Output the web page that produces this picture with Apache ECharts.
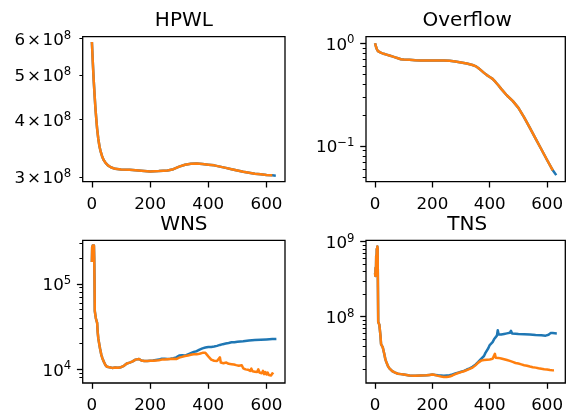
<!DOCTYPE html>
<html><head><meta charset="utf-8">
<script src="https://cdn.jsdelivr.net/npm/echarts@6/dist/echarts.min.js"></script>
<style>html,body{margin:0;padding:0;background:#fff}#c{width:566px;height:414px}</style>
</head><body><div id="c"></div>
<script>
// ---------------- data ----------------
const titles = ['HPWL', 'Overflow', 'WNS', 'TNS'];
const xTicks = [0, 200, 400, 600];

// HPWL
const hpwlBlueX = [0,3,6,9,12,15,18,22,26,30,35,40,47,55,65,80,100,130,160,200,230,260,280,300,320,340,360,380,400,420,440,460,480,500,520,540,560,580,600,620,632];
const hpwlBlueY = [5.90e8,5.35e8,4.90e8,4.55e8,4.25e8,4.02e8,3.82e8,3.63e8,3.50e8,3.41e8,3.33e8,3.27e8,3.22e8,3.18e8,3.15e8,3.125e8,3.115e8,3.11e8,3.10e8,3.085e8,3.09e8,3.10e8,3.12e8,3.16e8,3.19e8,3.205e8,3.21e8,3.20e8,3.19e8,3.18e8,3.16e8,3.14e8,3.12e8,3.10e8,3.08e8,3.065e8,3.05e8,3.04e8,3.03e8,3.025e8,3.02e8];
const hpwlOrangeX = [0,3,6,9,12,15,18,22,26,30,35,40,47,55,65,80,100,130,160,200,230,260,280,300,320,340,360,380,400,420,440,460,480,500,520,540,560,580,600,620];
const hpwlOrangeY = [5.90e8,5.35e8,4.90e8,4.55e8,4.25e8,4.02e8,3.82e8,3.63e8,3.50e8,3.41e8,3.33e8,3.27e8,3.22e8,3.18e8,3.15e8,3.125e8,3.115e8,3.11e8,3.10e8,3.085e8,3.09e8,3.10e8,3.12e8,3.16e8,3.19e8,3.205e8,3.21e8,3.20e8,3.19e8,3.18e8,3.16e8,3.14e8,3.12e8,3.10e8,3.08e8,3.065e8,3.05e8,3.04e8,3.03e8,3.025e8];
const hpwlTicks = [3e8, 4e8, 5e8, 6e8];

// Overflow
const ovfBlueX = [0,3,6,10,15,20,30,40,50,60,70,80,90,100,120,140,160,180,200,220,240,260,280,300,320,340,350,360,370,380,390,400,410,420,430,440,460,480,500,520,540,560,580,600,620,632];
const ovfBlueY = [1.0,0.93,0.88,0.84,0.82,0.81,0.79,0.775,0.76,0.745,0.73,0.715,0.70,0.695,0.69,0.683,0.68,0.678,0.678,0.679,0.68,0.675,0.665,0.65,0.635,0.615,0.60,0.575,0.545,0.515,0.49,0.47,0.45,0.42,0.39,0.36,0.31,0.275,0.235,0.19,0.15,0.118,0.093,0.073,0.058,0.052];
const ovfOrangeX = [0,3,6,10,15,20,30,40,50,60,70,80,90,100,120,140,160,180,200,220,240,260,280,300,320,340,350,360,370,380,390,400,410,420,430,440,460,480,500,520,540,560,580,600,620];
const ovfOrangeY = [1.0,0.93,0.88,0.84,0.82,0.81,0.79,0.775,0.76,0.745,0.73,0.715,0.70,0.695,0.69,0.683,0.68,0.678,0.678,0.679,0.68,0.675,0.665,0.65,0.635,0.615,0.60,0.575,0.545,0.515,0.49,0.47,0.45,0.42,0.39,0.36,0.31,0.275,0.235,0.19,0.15,0.118,0.093,0.073,0.058];
const ovfMajor = [0.1, 1];
const ovfMinor = [0.05,0.06,0.07,0.08,0.09,0.2,0.3,0.4,0.5,0.6,0.7,0.8,0.9];

// WNS (shared start, then the two runs diverge)
const wnsHeadX = [0,1,2,3,4,5,6,7,8,9,10,12,14,16,18,20,22,25,28,32,36,41,46,52,60,70,80,90,100,110,120,130,140,150,156,162,170,180,190,200];
const wnsHeadY = [1.8e5,2.7e5,1.9e5,2.8e5,2.1e5,2.75e5,2.3e5,2.8e5,2.0e5,1.1e5,4.8e4,4.3e4,3.9e4,3.7e4,3.5e4,2.7e4,2.3e4,2.0e4,1.75e4,1.5e4,1.35e4,1.23e4,1.13e4,1.07e4,1.06e4,1.04e4,1.05e4,1.045e4,1.06e4,1.1e4,1.17e4,1.2e4,1.24e4,1.3e4,1.37e4,1.32e4,1.27e4,1.25e4,1.25e4,1.26e4];
const wnsBlueTailX = [210,220,230,240,250,260,270,280,290,300,310,320,330,340,350,360,370,380,390,400,410,420,430,440,450,460,470,480,490,500,520,540,560,580,600,620,634];
const wnsBlueTailY = [1.27e4,1.29e4,1.3e4,1.33e4,1.33e4,1.32e4,1.33e4,1.35e4,1.38e4,1.45e4,1.46e4,1.45e4,1.5e4,1.55e4,1.6e4,1.63e4,1.7e4,1.76e4,1.8e4,1.82e4,1.83e4,1.85e4,1.88e4,1.93e4,1.97e4,2.0e4,2.03e4,2.07e4,2.08e4,2.1e4,2.13e4,2.17e4,2.2e4,2.22e4,2.24e4,2.26e4,2.27e4];
const wnsOrangeTailX = [210,220,230,240,250,260,270,280,290,300,310,320,330,340,350,360,370,380,385,390,395,400,405,410,415,420,425,430,435,440,443,448,452,458,462,466,470,475,480,484,488,492,496,500,505,510,515,520,524,528,532,536,540,544,548,552,556,560,564,568,572,576,580,584,588,592,596,600,604,608,612,616,620,623];
const wnsOrangeTailY = [1.26e4,1.27e4,1.28e4,1.3e4,1.3e4,1.31e4,1.32e4,1.33e4,1.32e4,1.37e4,1.4e4,1.43e4,1.45e4,1.48e4,1.5e4,1.5e4,1.52e4,1.56e4,1.58e4,1.56e4,1.5e4,1.42e4,1.35e4,1.3e4,1.28e4,1.26e4,1.24e4,1.25e4,1.22e4,1.38e4,1.2e4,1.22e4,1.18e4,1.17e4,1.2e4,1.15e4,1.16e4,1.13e4,1.15e4,1.1e4,1.14e4,1.09e4,1.12e4,1.08e4,1.1e4,1.06e4,1.12e4,1.03e4,1.07e4,1.0e4,1.05e4,0.99e4,1.03e4,0.96e4,1.02e4,0.95e4,1.0e4,0.94e4,0.97e4,0.93e4,1.0e4,0.92e4,0.95e4,0.9e4,0.96e4,0.88e4,0.93e4,0.87e4,0.92e4,0.86e4,0.9e4,0.85e4,0.9e4,0.87e4];
const wnsMajor = [1e4, 1e5];
const wnsMinor = [8e3,9e3,2e4,3e4,4e4,5e4,6e4,7e4,8e4,9e4,2e5,3e5];

// TNS
const tnsHeadX = [0,1,2,3,4,5,6,7,8,9,10,11,13,15,17,19,21,24,27,30,33,36,40,45,50,55,60,70,80,90,100,120,140,160,180,190,200];
const tnsHeadY = [3.8e8,3.5e8,4.5e8,3.6e8,6.5e8,5.0e8,8.0e8,7.0e8,8.6e8,8.0e8,2.5e8,8.5e7,8.2e7,7.8e7,7.5e7,5.5e7,4.3e7,4.1e7,3.9e7,3.7e7,3.1e7,2.7e7,2.45e7,2.2e7,2.05e7,1.95e7,1.88e7,1.8e7,1.74e7,1.72e7,1.7e7,1.65e7,1.64e7,1.65e7,1.66e7,1.68e7,1.7e7];
const tnsBlueTailX = [210,220,230,240,250,260,270,280,290,300,310,320,330,340,350,360,370,380,385,390,395,400,405,410,415,420,425,428,431,434,440,450,460,470,474,478,490,500,520,540,560,580,595,600,605,612,620,634];
const tnsBlueTailY = [1.68e7,1.66e7,1.65e7,1.64e7,1.65e7,1.66e7,1.7e7,1.75e7,1.8e7,1.85e7,1.9e7,1.98e7,2.05e7,2.15e7,2.3e7,2.5e7,2.75e7,3.0e7,3.3e7,3.4e7,3.8e7,4.2e7,4.4e7,4.6e7,5.0e7,5.3e7,5.6e7,6.6e7,5.8e7,5.7e7,5.8e7,5.9e7,6.0e7,6.1e7,6.5e7,6.0e7,5.95e7,5.9e7,5.85e7,5.8e7,5.7e7,5.65e7,5.6e7,5.8e7,5.75e7,6.05e7,6.05e7,6.0e7];
const tnsOrangeTailX = [210,220,230,240,250,260,270,280,290,300,310,320,330,340,350,360,370,380,390,400,410,415,418,421,430,440,450,460,470,480,490,500,510,520,530,540,550,560,570,580,590,600,610,620,624];
const tnsOrangeTailY = [1.67e7,1.63e7,1.6e7,1.58e7,1.58e7,1.6e7,1.65e7,1.72e7,1.78e7,1.83e7,1.88e7,1.95e7,2.02e7,2.1e7,2.25e7,2.45e7,2.6e7,2.65e7,2.68e7,2.7e7,2.75e7,2.8e7,3.2e7,2.85e7,2.83e7,2.78e7,2.72e7,2.65e7,2.58e7,2.5e7,2.42e7,2.38e7,2.32e7,2.26e7,2.22e7,2.17e7,2.13e7,2.1e7,2.06e7,2.03e7,2.0e7,1.98e7,1.95e7,1.93e7,1.94e7];
const tnsMajor = [1e8, 1e9];
const tnsMinor = [2e7,3e7,4e7,5e7,6e7,7e7,8e7,9e7,2e8,3e8,4e8,5e8,6e8,7e8,8e8,9e8];

// ---------------- chart ----------------
const BLUE = '#1f77b4', ORANGE = '#ff7f0e';
const FONT = 'DejaVu Sans';
const pairs = (xs, ys) => xs.map((x, i) => [x, ys[i]]);

const grids = [
  {left: 82.7, top: 36.7, width: 202.3, height: 145},
  {left: 366, top: 36.7, width: 202.3, height: 145},
  {left: 82.7, top: 240.3, width: 202.3, height: 144.5},
  {left: 366, top: 240.3, width: 202.3, height: 144.5}
];
const yRanges = [[2.93e8, 6.06e8], [0.0449, 1.159], [6930, 3.22e5], [1.31e7, 1.043e9]];

function powFmt(v) {
  const e = Math.round(Math.log10(v));
  return '10{s|' + (e < 0 ? '\u2212' + (-e) : e) + '}';
}
function mantFmt(v) {
  const e = Math.floor(Math.log10(v) + 1e-9);
  const m = Math.round(v / Math.pow(10, e));
  return m + '\u200a\u00d7\u200a10{s|' + e + '}';
}

const majorSets = [hpwlTicks, ovfMajor, wnsMajor, tnsMajor];
const minorSets = [[], ovfMinor, wnsMinor, tnsMinor];
const fmts = [mantFmt, powFmt, powFmt, powFmt];

const xAxes = [], yAxes = [];
for (let i = 0; i < 4; i++) {
  xAxes.push({
    type: 'value', gridIndex: i, min: -31.6, max: 663.6, position: 'bottom',
    axisLine: {show: false, onZero: false}, splitLine: {show: false},
    axisTick: {show: true, customValues: xTicks, length: 5.8, lineStyle: {color: '#000', width: 1.3}},
    axisLabel: {customValues: xTicks, margin: 14, color: '#000', fontFamily: FONT, fontSize: 16.7, lineHeight: 17}
  });
  const small = i === 0;
  yAxes.push({
    type: 'log', logBase: 10, gridIndex: i, position: 'left', offset: 0,
    min: yRanges[i][0], max: yRanges[i][1],
    axisLine: {show: false, onZero: false}, splitLine: {show: false}, minorTick: {show: false},
    axisTick: {show: true, customValues: majorSets[i], length: small ? 3.3 : 5.8,
      lineStyle: {color: '#000', width: small ? 1 : 1.3}},
    axisLabel: {
      customValues: majorSets[i], formatter: fmts[i], margin: 11.5,
      color: '#000', fontFamily: FONT, fontSize: 16.7, lineHeight: 22, padding: [4, 0, 0, 0],
      rich: {s: {fontSize: 11.7, lineHeight: 12, verticalAlign: 'top', fontFamily: FONT, color: '#000'}}
    }
  });
  yAxes.push({
    type: 'log', logBase: 10, gridIndex: i, position: 'left', offset: 0,
    min: yRanges[i][0], max: yRanges[i][1],
    axisLine: {show: false, onZero: false}, splitLine: {show: false}, axisLabel: {show: false}, minorTick: {show: false},
    axisTick: {show: minorSets[i].length > 0, customValues: minorSets[i].length ? minorSets[i] : [yRanges[i][0]],
      length: 3.3, lineStyle: {color: '#000', width: 1}}
  });
}

const seriesData = [
  [pairs(hpwlBlueX, hpwlBlueY), pairs(hpwlOrangeX, hpwlOrangeY)],
  [pairs(ovfBlueX, ovfBlueY), pairs(ovfOrangeX, ovfOrangeY)],
  [pairs(wnsHeadX.concat(wnsBlueTailX), wnsHeadY.concat(wnsBlueTailY)),
   pairs(wnsHeadX.concat(wnsOrangeTailX), wnsHeadY.concat(wnsOrangeTailY))],
  [pairs(tnsHeadX.concat(tnsBlueTailX), tnsHeadY.concat(tnsBlueTailY)),
   pairs(tnsHeadX.concat(tnsOrangeTailX), tnsHeadY.concat(tnsOrangeTailY))]
];
const series = [];
seriesData.forEach((pair, i) => {
  [BLUE, ORANGE].forEach((col, k) => {
    series.push({
      type: 'line', xAxisIndex: i, yAxisIndex: 2 * i, data: pair[k],
      showSymbol: false, symbol: 'none', silent: true, clip: true,
      lineStyle: {color: col, width: 2.5, join: 'round'}, itemStyle: {color: col}
    });
  });
});

const titleTops = [10.8, 10.8, 214.4, 214.4];
const title = titles.map((t, i) => ({
  text: t, left: grids[i].left + grids[i].width / 2, top: titleTops[i], textAlign: 'center',
  padding: 0,
  textStyle: {fontFamily: FONT, fontSize: 20, fontWeight: 'normal', color: '#000', lineHeight: 20}
}));

const chart = echarts.init(document.getElementById('c'), null, {renderer: 'canvas'});
chart.setOption({
  animation: false,
  backgroundColor: '#fff',
  title: title,
  grid: grids.map(g => Object.assign({show: true, borderColor: '#000', borderWidth: 1.3, backgroundColor: 'transparent'}, g)),
  xAxis: xAxes,
  yAxis: yAxes,
  series: series
});
</script>
</body></html>
